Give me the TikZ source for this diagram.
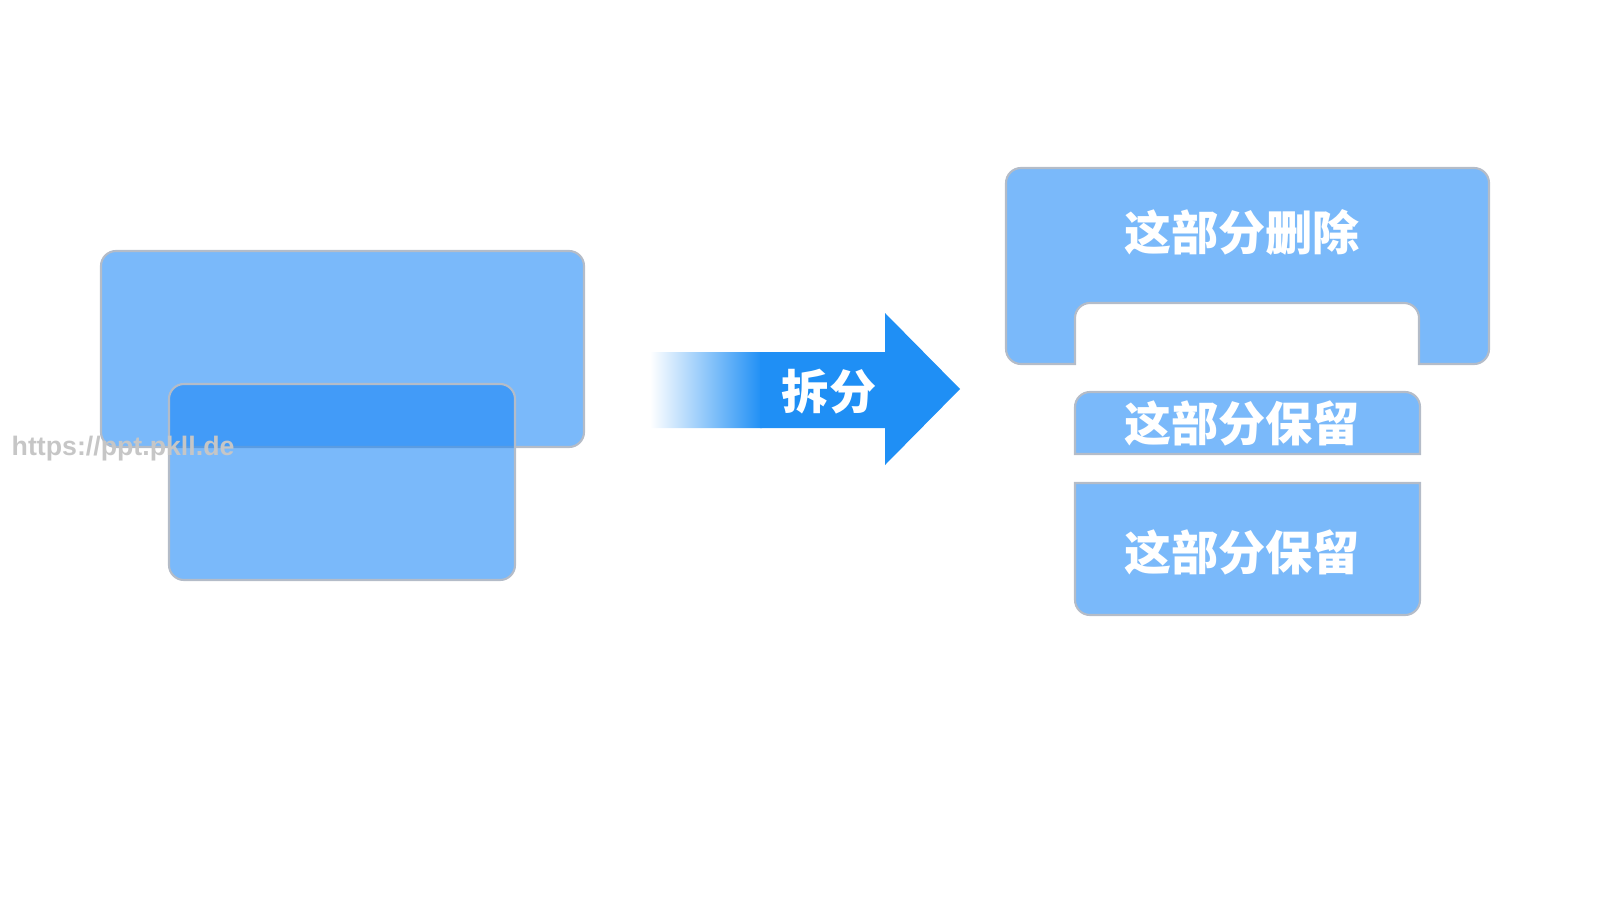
\documentclass[tikz,border=0pt]{standalone}
\usepackage{fontspec}
\usepackage{xcolor}
\newfontfamily\cjk{Noto Sans CJK SC}
\newfontfamily\urlfont{Liberation Sans}
\definecolor{splitblue}{HTML}{1A86F6}
\definecolor{arrowblue}{HTML}{1F8FF5}
\definecolor{edgegray}{HTML}{B4BCC8}
\definecolor{markgray}{HTML}{C6C6C6}

\begin{document}
\begin{tikzpicture}[
    x=0.01cm, y=-0.01cm,
    slab/.style={fill=splitblue, fill opacity=0.58, draw=edgegray, line width=0.6pt},
    tag/.style={font=\cjk\bfseries\fontsize{13.4}{16}\selectfont, text=white, inner sep=0pt},
    urltag/.style={font=\urlfont\bfseries\fontsize{7.6}{9}\selectfont, text=markgray, inner sep=0pt},
  ]

  \def\rr{0.15cm}
  \useasboundingbox (0,0) rectangle (1600,900);

  % ---------- (left) two overlapping blocks
  \draw[slab, rounded corners=\rr] (101,251) rectangle (584,447);
  \draw[slab, rounded corners=\rr] (169,384) rectangle (515,580);

  % ---------- arrow, fading in from the left
  \begin{scope}
    \clip (650,352) -- (885,352) -- (885,313) -- (960,389)
      -- (885,465) -- (885,428) -- (650,428) -- cycle;
    \shade[left color=white, right color=arrowblue] (650,300) rectangle (762,480);
    \fill[arrowblue] (760,300) rectangle (970,480);
  \end{scope}
  \node[tag] (split) at (829,392) {拆分};

  % ---------- (right) upper part with notch
  \draw[slab] (1040,364) [sharp corners] -- (1075,364)
    [rounded corners=\rr] -- (1075,303) -- (1419,303)
    [sharp corners] -- (1419,364)
    [rounded corners=\rr] -- (1489,364) -- (1489,168) -- (1006,168) -- (1006,364) -- cycle;
  \node[tag] (drop) at (1242,232) {这部分删除};

  % ---------- (right) middle strip
  \draw[slab] (1247,454) [sharp corners] -- (1075,454)
    [rounded corners=\rr] -- (1075,392) -- (1420,392)
    [sharp corners] -- (1420,454) -- cycle;
  \node[tag] (keepa) at (1242,423) {这部分保留};

  % ---------- (right) lower block
  \draw[slab] (1247,483) [sharp corners] -- (1075,483)
    [rounded corners=\rr] -- (1075,615) -- (1420,615)
    [sharp corners] -- (1420,483) -- cycle;
  \node[tag] (keepb) at (1242,552) {这部分保留};

  % ---------- watermark
  \node[urltag, anchor=west] (url) at (11,449) {https://ppt.pkll.de};

\end{tikzpicture}
\end{document}
